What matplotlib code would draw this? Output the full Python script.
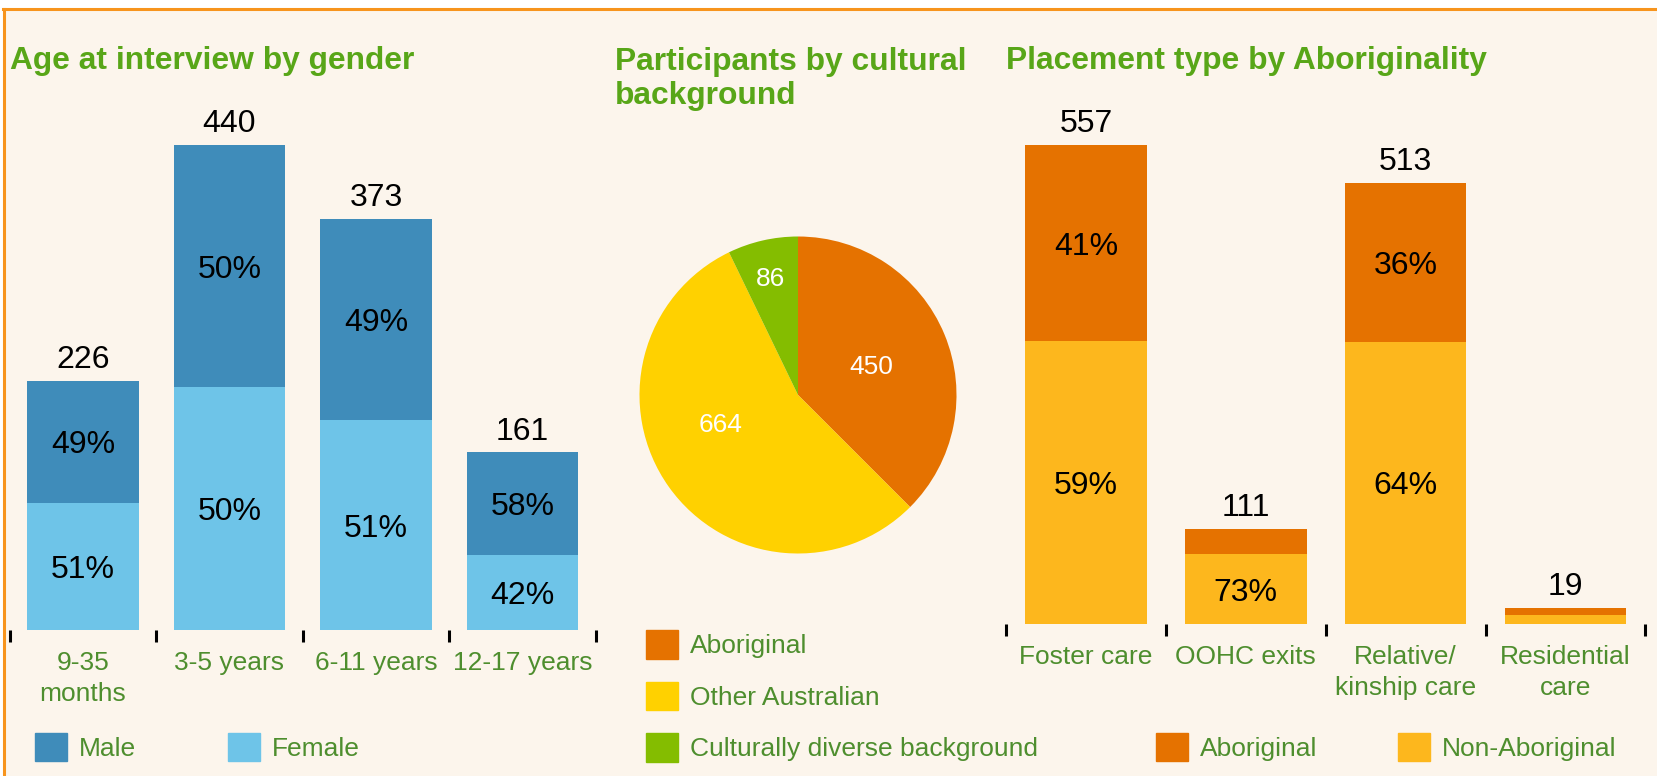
import numpy as np
import matplotlib
matplotlib.use('Agg')
import matplotlib.pyplot as plt
from matplotlib.patches import Patch, Rectangle
from matplotlib.lines import Line2D

plt.rcParams['font.family'] = ['Liberation Sans', 'DejaVu Sans']

# Данные
age_groups = ['9-35\nmonths', '3-5 years', '6-11 years', '12-17 years']
age_totals = [226, 440, 373, 161]
female_pct = [51, 50, 51, 42]
male_pct = [49, 50, 49, 58]

culture_labels = ['Aboriginal', 'Other Australian', 'Culturally diverse background']
culture_counts = [450, 664, 86]

placement_types = ['Foster care', 'OOHC exits', 'Relative/\nkinship care', 'Residential\ncare']
placement_totals = [557, 111, 513, 19]
non_aboriginal_pct = [59, 73, 64, 58]
aboriginal_pct = [41, 27, 36, 42]

# Цвета
bg = '#FCF5EC'
border = '#F7941D'
title_green = '#58A618'
label_green = '#4E8E2E'
c_male = '#3F8CBA'
c_female = '#6EC4E8'
c_abor = '#E57200'
c_nonab = '#FDB71D'
c_other = '#FFD100'
c_div = '#84BD00'

W, H = 1657, 776
fig = plt.figure(figsize=(W / 100, H / 100), dpi=100)
fig.patch.set_facecolor('white')
top = 1 - 9 / H
fig.add_artist(Rectangle((3 / W, 0), 1 - 3 / W, top, transform=fig.transFigure,
                         facecolor=bg, edgecolor='none', zorder=0))
fig.add_artist(Line2D([3 / W, 1], [top, top], color=border, lw=2.2, zorder=1))
fig.add_artist(Line2D([4 / W, 4 / W], [0, top], color=border, lw=2.2, zorder=1))


def stacked(ax, cats, totals, low_pct, high_pct, c_low, c_high):
    x = np.arange(len(cats))
    totals = np.array(totals, dtype=float)
    low = totals * np.array(low_pct) / 100
    high = totals - low
    ax.bar(x, low, width=0.76, color=c_low)
    ax.bar(x, high, bottom=low, width=0.76, color=c_high)
    for i in range(len(cats)):
        if low[i] >= 50:
            ax.text(x[i], low[i] / 2, f'{low_pct[i]}%', ha='center',
                    va='center_baseline', fontsize=23)
        if high[i] >= 50:
            ax.text(x[i], low[i] + high[i] / 2, f'{high_pct[i]}%', ha='center',
                    va='center_baseline', fontsize=23)
        ax.annotate(f'{int(totals[i])}', (x[i], totals[i]), xytext=(0, 9),
                    textcoords='offset points', ha='center', va='baseline', fontsize=23)
    bounds = np.arange(len(cats) + 1) - 0.5
    ax.set_xticks(bounds, [''] * len(bounds))
    ax.set_xticks(x, cats, minor=True)
    ax.tick_params(which='major', length=8.6, width=2.2, color='black', direction='out')
    ax.tick_params(which='minor', length=0, pad=15, labelsize=19, labelcolor=label_green)
    for lab in ax.get_xticklabels(minor=True):
        lab.set_linespacing(1.37)
    ax.set_yticks([])
    for s in ax.spines.values():
        s.set_visible(False)
    ax.set_xlim(-0.5, len(cats) - 0.5)
    ax.set_ylim(0, totals.max())
    ax.set_facecolor('none')


bar_top = 144.8
ax1 = fig.add_axes([9.5 / W, (H - 630) / H, 586.5 / W, (630 - bar_top) / H])
stacked(ax1, age_groups, age_totals, female_pct, male_pct, c_female, c_male)

ax3 = fig.add_axes([1006 / W, (H - 624) / H, 639.5 / W, (624 - bar_top) / H])
stacked(ax3, placement_types, placement_totals, non_aboriginal_pct, aboriginal_pct, c_nonab, c_abor)

# Круговая диаграмма
r = 158.5
axp = fig.add_axes([(798 - r) / W, (H - 395 - r) / H, 2 * r / W, 2 * r / H])
wedges, _ = axp.pie(culture_counts, colors=[c_abor, c_other, c_div], startangle=90,
                    counterclock=False, radius=1, wedgeprops=dict(linewidth=0))
label_r = [0.5, 0.52, 0.77]
label_shift = [0, -16, 0]
for w, n, lr, sh in zip(wedges, culture_counts, label_r, label_shift):
    ang = np.deg2rad((w.theta1 + w.theta2) / 2 + sh)
    axp.text(lr * np.cos(ang), lr * np.sin(ang), str(n), color='white',
             ha='center', va='center_baseline', fontsize=19)
axp.set_xlim(-1, 1)
axp.set_ylim(-1, 1)
axp.set_facecolor('none')

# Заголовки
tkw = dict(fontsize=22.9, fontweight='bold', color=title_green, va='center', ha='left')
fig.text(10.5 / W, 1 - 61.2 / H, 'Age at interview by gender', **tkw)
fig.text(615 / W, 1 - 79 / H, 'Participants by cultural\nbackground', linespacing=1.15, **tkw)
fig.text(1006 / W, 1 - 61.2 / H, 'Placement type by Aboriginality', **tkw)

# Легенды
lkw = dict(frameon=False, fontsize=19, handlelength=1.21, handleheight=1.29,
           handletextpad=0.45, borderpad=0, borderaxespad=0, labelcolor=label_green)
fig.legend([Patch(color=c_male), Patch(color=c_female)], ['Male', 'Female'],
           loc='center left', bbox_to_anchor=(35 / W, 1 - 747 / H), ncol=2,
           columnspacing=3.5, **lkw)
fig.legend([Patch(color=c) for c in [c_abor, c_other, c_div]], culture_labels,
           loc='upper left', bbox_to_anchor=(646 / W, 1 - 630 / H), ncol=1,
           labelspacing=0.87, **lkw)
fig.legend([Patch(color=c_abor), Patch(color=c_nonab)], ['Aboriginal', 'Non-Aboriginal'],
           loc='center left', bbox_to_anchor=(1156 / W, 1 - 747 / H), ncol=2,
           columnspacing=3.07, **lkw)

fig.savefig('out.png', dpi=100, facecolor=fig.get_facecolor())
